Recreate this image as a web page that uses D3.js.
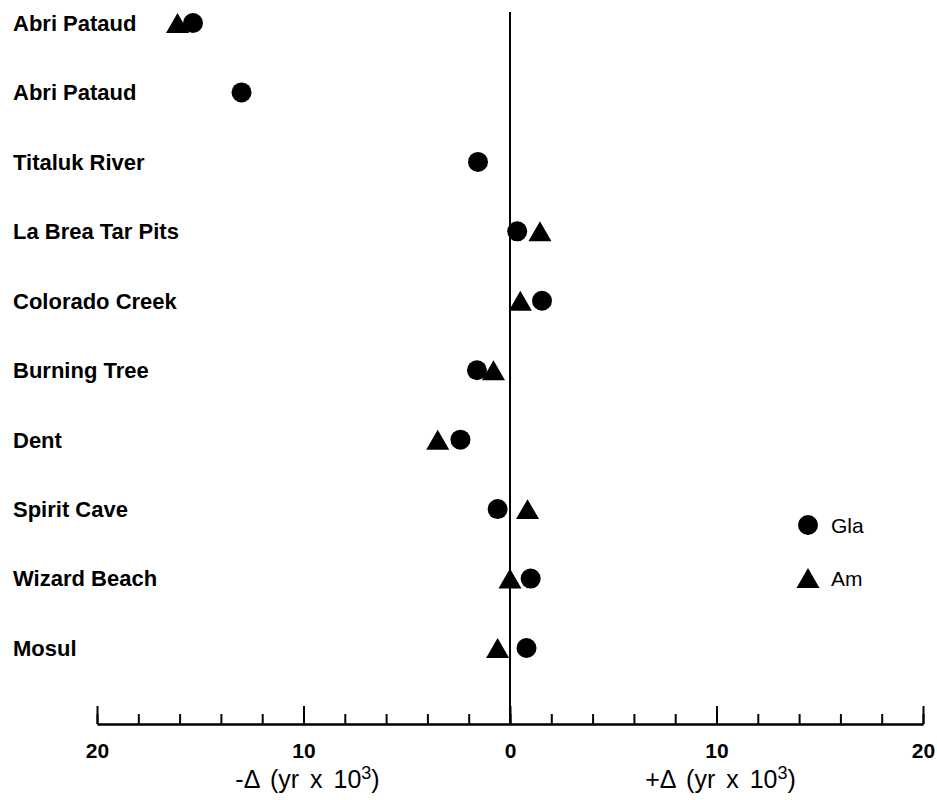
<!DOCTYPE html>
<html>
<head>
    <meta charset="utf-8">
    <title>Gla / Am offsets</title>
    <script src="https://cdnjs.cloudflare.com/ajax/libs/d3/7.8.5/d3.min.js"></script>
    <style>
        html, body {
            margin: 0;
            padding: 0;
            background: #fff;
            font-family: 'Liberation Sans', Arial, sans-serif;
        }
        .site { font-weight: bold; font-size: 22px; fill: #000; }
        .tick-label { font-weight: bold; font-size: 21px; }
        .axis-title { font-size: 25px; }
        .legend-text { font-size: 21px; }
    </style>
</head>
<body>
<div id="chart"></div>
<script>
    // one row per site, top to bottom
    const sites = ['Abri Pataud', 'Abri Pataud ', 'Titaluk River', 'La Brea Tar Pits', 'Colorado Creek',
        'Burning Tree', 'Dent', 'Spirit Cave', 'Wizard Beach', 'Mosul'];

    // delta in kyr, null when the site has no value
    const glaValues = [-15.35, -13.0, -1.55, 0.35, 1.55, -1.6, -2.4, -0.6, 1.0, 0.8];
    const amValues = [-16.1, null, null, 1.45, 0.5, -0.8, -3.5, 0.85, 0.0, -0.6];

    const majorTicks = [-20, -10, 0, 10, 20];
    const minorTicks = d3.range(-20, 21, 2);

    const width = 937, height = 800;
    const svg = d3.select('#chart').append('svg')
        .attr('width', width)
        .attr('height', height);

    const x = d3.scaleLinear().domain([-20, 20]).range([97, 923]);
    const y = d3.scalePoint().domain(sites).range([23, 648]);
    const axisY = 724;

    // zero line
    svg.append('line')
        .attr('x1', x(0)).attr('x2', x(0))
        .attr('y1', 12).attr('y2', axisY)
        .attr('stroke', '#000').attr('stroke-width', 2);

    // site names
    svg.selectAll('.site')
        .data(sites)
        .enter()
        .append('text')
        .attr('class', 'site')
        .attr('x', 13)
        .attr('y', d => y(d))
        .attr('dy', '0.36em')
        .text(d => d.trim());

    // axis: minor ticks, major ticks, then labels below
    const minorAxis = d3.axisTop(x).tickValues(minorTicks).tickSize(10).tickSizeOuter(0).tickFormat('');
    const majorAxis = d3.axisTop(x).tickValues(majorTicks).tickSize(18).tickSizeOuter(0).tickFormat('');
    const labelAxis = d3.axisBottom(x).tickValues(majorTicks).tickSize(0).tickPadding(19)
        .tickFormat(d => Math.abs(d));

    [minorAxis, majorAxis].forEach(a => {
        const g = svg.append('g')
            .attr('transform', 'translate(0,' + axisY + ')')
            .call(a);
        g.selectAll('path, line').attr('stroke', '#000').attr('stroke-width', 2);
    });

    const lab = svg.append('g')
        .attr('transform', 'translate(0,' + axisY + ')')
        .call(labelAxis);
    lab.select('.domain').remove();
    lab.selectAll('text')
        .attr('class', 'tick-label')
        .attr('fill', '#000')
        .style('font-family', "'Liberation Sans', Arial, sans-serif");

    const titles = [
        { v: -10, sign: '-Δ' },
        { v: 10, sign: '+Δ' }
    ];
    titles.forEach(t => {
        const txt = svg.append('text')
            .attr('class', 'axis-title')
            .attr('x', x(t.v) + 4)
            .attr('y', 788)
            .attr('text-anchor', 'middle')
            .style('word-spacing', '4px');
        txt.append('tspan').text(t.sign + ' (yr x 10');
        txt.append('tspan').attr('dy', -9).style('font-size', '18px').text('3');
        txt.append('tspan').attr('dy', 9).text(')');
    });

    // markers
    const circleSym = d3.symbol().type(d3.symbolCircle).size(Math.PI * 100);
    const triSize = 230;
    const triSym = d3.symbol().type(d3.symbolTriangle).size(triSize);
    const triShift = Math.sqrt(triSize / (Math.sqrt(3) * 3)) / 2;

    svg.selectAll('.gla')
        .data(sites.map((s, i) => ({ s, v: glaValues[i] })).filter(d => d.v !== null))
        .enter()
        .append('path')
        .attr('class', 'gla')
        .attr('d', circleSym)
        .attr('transform', d => 'translate(' + x(d.v) + ',' + y(d.s) + ')');

    svg.selectAll('.am')
        .data(sites.map((s, i) => ({ s, v: amValues[i] })).filter(d => d.v !== null))
        .enter()
        .append('path')
        .attr('class', 'am')
        .attr('d', triSym)
        .attr('transform', d => 'translate(' + x(d.v) + ',' + (y(d.s) + triShift) + ')');

    // legend
    const legend = [
        { name: 'Gla', sym: circleSym, shift: 0, y: 525 },
        { name: 'Am', sym: triSym, shift: triShift, y: 578 }
    ];
    legend.forEach(l => {
        svg.append('path')
            .attr('d', l.sym)
            .attr('transform', 'translate(808,' + (l.y + l.shift) + ')');
        svg.append('text')
            .attr('class', 'legend-text')
            .attr('x', 831)
            .attr('y', l.y)
            .attr('dy', '0.36em')
            .text(l.name);
    });
</script>
</body>
</html>
